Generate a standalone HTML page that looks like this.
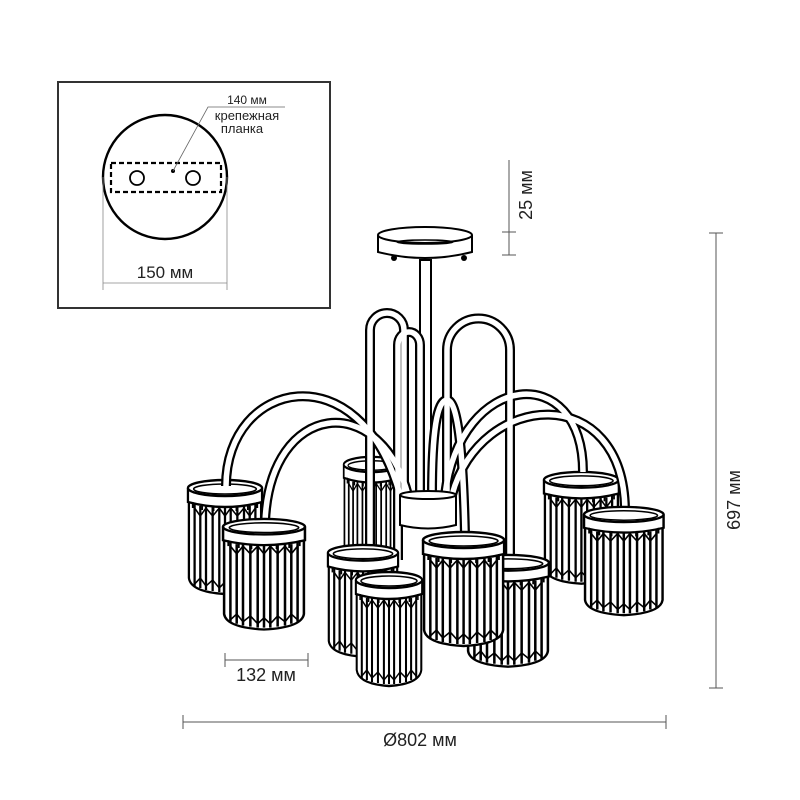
<!DOCTYPE html>
<html><head><meta charset="utf-8"><style>
html,body{margin:0;padding:0;background:#fff;}
svg{display:block;}
text{font-family:"Liberation Sans","Noto Sans CJK SC",sans-serif;fill:#222;}
</style></head><body>
<svg width="800" height="800" viewBox="0 0 800 800" xmlns="http://www.w3.org/2000/svg">
<defs>
<g id="shade">
  <path d="M2 24 L2 100 Q4 114 40 116 Q76 114 78 100 L78 24 Z" fill="#fff" stroke="#000" stroke-width="2.4"/>
  <g stroke="#000" stroke-width="2.4">
    <line x1="8" y1="26" x2="8" y2="108"/><line x1="14" y1="28" x2="14" y2="110"/>
    <line x1="20" y1="28" x2="20" y2="112"/><line x1="27" y1="28" x2="27" y2="113"/>
    <line x1="34" y1="28" x2="34" y2="114"/><line x1="40" y1="28" x2="40" y2="114"/>
    <line x1="46" y1="28" x2="46" y2="114"/><line x1="53" y1="28" x2="53" y2="113"/>
    <line x1="60" y1="28" x2="60" y2="112"/><line x1="66" y1="28" x2="66" y2="110"/>
    <line x1="72" y1="26" x2="72" y2="108"/>
  </g>
  <path d="M8 30 L14 38 L20 30 L27 38 L34 30 L40 38 L46 30 L53 38 L60 30 L66 38 L72 30" fill="none" stroke="#000" stroke-width="1.6"/>
  <path d="M8 106 L14 100 L20 108 L27 102 L34 110 L40 104 L46 110 L53 102 L60 108 L66 100 L72 106" fill="none" stroke="#000" stroke-width="1.6"/>
  <path d="M1 10 L1 24 Q40 34 79 24 L79 10" fill="#fff" stroke="#000" stroke-width="2.4"/>
  <ellipse cx="40" cy="10" rx="39" ry="8" fill="#fff" stroke="#000" stroke-width="2.4"/>
  <ellipse cx="40" cy="11" rx="33" ry="5" fill="none" stroke="#000" stroke-width="1.6"/>
  <g stroke="#000" stroke-width="1.8"><line x1="6" y1="24" x2="6" y2="30"/><line x1="16" y1="27" x2="16" y2="32"/><line x1="28" y1="28" x2="28" y2="33"/><line x1="40" y1="29" x2="40" y2="34"/><line x1="52" y1="28" x2="52" y2="33"/><line x1="64" y1="27" x2="64" y2="32"/><line x1="74" y1="24" x2="74" y2="30"/></g>
</g>
</defs>

<!-- inset box -->
<rect x="58" y="82" width="272" height="226" fill="none" stroke="#333" stroke-width="2"/>
<circle cx="165" cy="177" r="62" fill="none" stroke="#000" stroke-width="2.4"/>
<rect x="111" y="163" width="110" height="29" fill="none" stroke="#000" stroke-width="2.2" stroke-dasharray="5,3"/>
<circle cx="137" cy="178" r="7" fill="none" stroke="#000" stroke-width="1.8"/>
<circle cx="193" cy="178" r="7" fill="none" stroke="#000" stroke-width="1.8"/>
<circle cx="173" cy="171" r="2" fill="#000"/>
<polyline points="173,171 208,107 285,107" fill="none" stroke="#666" stroke-width="0.8"/>
<text x="247" y="104" font-size="12" text-anchor="middle">140 мм</text>
<text x="247" y="120" font-size="13" text-anchor="middle">крепежная</text>
<text x="242" y="133" font-size="13" text-anchor="middle">планка</text>
<line x1="103" y1="177" x2="103" y2="290" stroke="#888" stroke-width="0.8"/>
<line x1="227" y1="177" x2="227" y2="290" stroke="#888" stroke-width="0.8"/>
<line x1="103" y1="283" x2="227" y2="283" stroke="#888" stroke-width="0.8"/>
<text x="165" y="278" font-size="17" text-anchor="middle">150 мм</text>

<!-- dimensions -->
<g stroke="#555" stroke-width="1">
<line x1="509" y1="160" x2="509" y2="255"/><line x1="502" y1="232" x2="516" y2="232"/><line x1="502" y1="255" x2="516" y2="255"/>
<line x1="716" y1="233" x2="716" y2="688"/><line x1="709" y1="233" x2="723" y2="233"/><line x1="709" y1="688" x2="723" y2="688"/>
<line x1="183" y1="722" x2="666" y2="722"/><line x1="183" y1="715" x2="183" y2="729"/><line x1="666" y1="715" x2="666" y2="729"/>
<line x1="225" y1="660" x2="308" y2="660"/><line x1="225" y1="653" x2="225" y2="667"/><line x1="308" y1="653" x2="308" y2="667"/>
</g>
<text transform="translate(532,195) rotate(-90)" font-size="18" text-anchor="middle">25 мм</text>
<text transform="translate(740,500) rotate(-90)" font-size="18" text-anchor="middle">697 мм</text>
<text x="420" y="746" font-size="18" text-anchor="middle">Ø802 мм</text>
<text x="266" y="681" font-size="18" text-anchor="middle">132 мм</text>

<!-- canopy -->
<path d="M378 235 L378 252 Q425 264 472 252 L472 235" fill="#fff" stroke="#000" stroke-width="2"/>
<ellipse cx="425" cy="235" rx="47" ry="8" fill="#fff" stroke="#000" stroke-width="2"/>
<ellipse cx="425" cy="242" rx="28" ry="2" fill="none" stroke="#000" stroke-width="1.5"/>
<circle cx="394" cy="258" r="3" fill="#000"/><circle cx="464" cy="258" r="3" fill="#000"/>
<rect x="420" y="260" width="11" height="240" fill="#fff" stroke="#000" stroke-width="2"/>

<!-- back shades -->
<use href="#shade" transform="translate(187,478) scale(0.95,1)"/>
<use href="#shade" transform="translate(343,455) scale(0.72,0.95)"/>
<use href="#shade" transform="translate(543,470) scale(0.96,0.98)"/>

<!-- arms -->
<g fill="none" stroke-linecap="butt">
<g stroke="#000" stroke-width="10">
<path d="M226 486 C226 380 360 350 400 495"/>
<path d="M265 522 C270 400 380 390 408 495"/>
<path d="M583 472 C583 360 460 370 445 495"/>
<path d="M625 512 C625 380 480 390 452 495"/>
<path d="M370 548 L370 330 A17 17 0 0 1 404 330 L404 495"/>
<path d="M398 560 L398 345 A11 13 0 0 1 420 345 L420 495"/>
<path d="M510 560 L510 350 A31.5 31.5 0 0 0 447 350 L447 495"/>
<path d="M465 535 Q462 400 447 400 Q432 400 432 495"/>
</g>
<g stroke="#fff" stroke-width="5.5">
<path d="M226 486 C226 380 360 350 400 495"/>
<path d="M265 522 C270 400 380 390 408 495"/>
<path d="M583 472 C583 360 460 370 445 495"/>
<path d="M625 512 C625 380 480 390 452 495"/>
<path d="M370 548 L370 330 A17 17 0 0 1 404 330 L404 495"/>
<path d="M398 560 L398 345 A11 13 0 0 1 420 345 L420 495"/>
<path d="M510 560 L510 350 A31.5 31.5 0 0 0 447 350 L447 495"/>
<path d="M465 535 Q462 400 447 400 Q432 400 432 495"/>
</g>
</g>
<!-- hub -->
<path d="M400 495 L400 525 Q428 532 456 525 L456 495" fill="#fff" stroke="#000" stroke-width="2"/>
<ellipse cx="428" cy="495" rx="28" ry="4" fill="#fff" stroke="#000" stroke-width="2"/>

<!-- front shades -->
<use href="#shade" transform="translate(583,505) scale(1.02,0.95)"/>
<use href="#shade" transform="translate(222,517) scale(1.05,0.97)"/>
<use href="#shade" transform="translate(466,553) scale(1.05,0.98)"/>
<use href="#shade" transform="translate(327,543) scale(0.9,0.98)"/>
<use href="#shade" transform="translate(422,530) scale(1.04,1)"/>
<use href="#shade" transform="translate(355,570) scale(0.85,1)"/>
</svg>
</body></html>
